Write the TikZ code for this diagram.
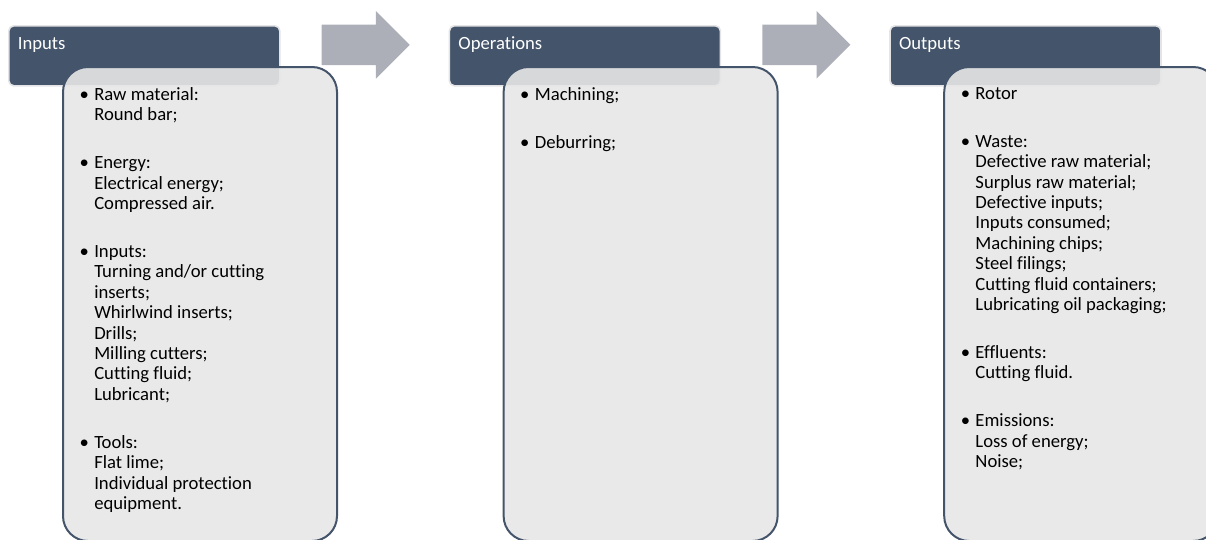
\documentclass[tikz,border=0pt]{standalone}
\usepackage{fontspec}
\setmainfont{Carlito}[Ligatures=NoCommon]
\usepackage{tikz}
\usetikzlibrary{positioning, calc, shapes.arrows}

\definecolor{slate}{HTML}{44546A}
\definecolor{panel}{HTML}{E7E7E7}
\definecolor{rim}{HTML}{E4E4E6}
\definecolor{arrowgrey}{HTML}{ADAFB8}

% bullet hanging to the left of the text column
\newcommand{\bul}{\llap{\textbullet\hspace{4pt}}}

\begin{document}
\begin{tikzpicture}[
    x=0.75pt, y=-0.75pt,
    % Define styles for the boxes, lists and arrows
    node distance=126pt,
    headbox/.style={rectangle, rounded corners=3.75pt, fill=slate, draw=rim, line width=1.2pt,
        text=white, font=\fontsize{14}{15.3}\selectfont, align=left, text width=189.75pt,
        inner xsep=6.75pt, inner ysep=0pt, text height=18pt, text depth=27pt},
    bodybox/.style={rectangle, rounded corners=18.75pt, fill=panel, fill opacity=0.9,
        draw=slate, line width=1.5pt, minimum width=205.5pt, minimum height=355.5pt, anchor=north west},
    listtext/.style={anchor=north west, inner sep=0pt, align=left, font=\fontsize{14}{15.3}\selectfont},
    blockarrow/.style={single arrow, fill=arrowgrey, draw=none, inner xsep=0pt, inner ysep=15pt,
        minimum height=66pt, single arrow head extend=10.125pt, single arrow tip angle=90}
]
    \clip (0,0) rectangle (1206,539);

    % Header tabs
    \node[headbox, anchor=north west] (inhead) at (8,25) {Inputs};
    \node[headbox, right=of inhead] (ophead) {Operations};
    \node[headbox, right=of ophead] (outhead) {Outputs};

    % Panels laid over the tabs
    \node[bodybox] (inbody) at ([shift={(54,41)}]inhead.north west) {};
    \node[bodybox] (opbody) at ([shift={(54,41)}]ophead.north west) {};
    \node[bodybox] (outbody) at ([shift={(54,41)}]outhead.north west) {};

    % Block arrows between the stages
    \node[blockarrow] (arr1) at ($(inhead.east)!0.5!(ophead.west) + (-9,-11)$) {};
    \node[blockarrow] (arr2) at ($(ophead.east)!0.5!(outhead.west) + (-9,-11)$) {};

    % Lists
    \node[listtext] (inlist) at ([shift={(32,21)}]inbody.north west) {%
        \bul Raw material:\\ Round bar;\\[20.7pt]
        \bul Energy:\\ Electrical energy;\\ Compressed air.\\[20.7pt]
        \bul Inputs:\\ Turning and/or cutting\\ inserts;\\ Whirlwind inserts;\\ Drills;\\
        Milling cutters;\\ Cutting fluid;\\ Lubricant;\\[20.7pt]
        \bul Tools:\\ Flat lime;\\ Individual protection\\ equipment.};

    \node[listtext] (oplist) at ([shift={(32,21)}]opbody.north west) {%
        \bul Machining;\\[20.7pt]
        \bul Deburring;};

    \node[listtext] (outlist) at ([shift={(32,21)}]outbody.north west) {%
        \bul Rotor\\[20.7pt]
        \bul Waste:\\ Defective raw material;\\ Surplus raw material;\\ Defective inputs;\\
        Inputs consumed;\\ Machining chips;\\ Steel filings;\\ Cutting fluid containers;\\
        Lubricating oil packaging;\\[20.7pt]
        \bul Effluents:\\ Cutting fluid.\\[20.7pt]
        \bul Emissions:\\ Loss of energy;\\ Noise;};
\end{tikzpicture}
\end{document}
